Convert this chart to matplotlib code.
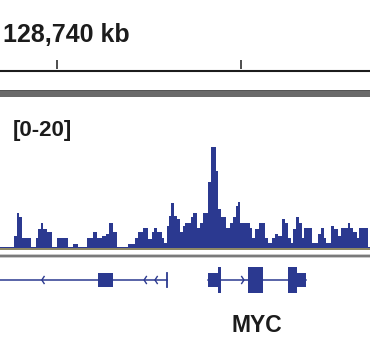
import matplotlib.pyplot as plt
import numpy as np

# view window (kb) and ruler ticks
view_kb = [128736.92, 128757.00]
tick_kb = [128740, 128750]
ruler_label = "128,740 kb"
range_label = "[0-20]"
ymax = 20

# coverage as bedgraph-like steps: start of each step (kb) and its value
starts_kb = [
    128736.92, 128737.70, 128737.83, 128737.96, 128738.10, 128738.61, 128738.86, 128739.00,
    128739.13, 128739.24, 128739.46, 128739.73, 128740.03, 128740.63, 128740.87, 128741.17,
    128741.63, 128741.99, 128742.17, 128742.44, 128742.68, 128742.82, 128743.04, 128743.26,
    128743.85, 128744.25, 128744.40, 128744.52, 128744.70, 128744.97, 128745.16, 128745.30,
    128745.43, 128745.70, 128745.84, 128745.97, 128746.11, 128746.20, 128746.37, 128746.51,
    128746.69, 128746.84,
    128746.96, 128747.29, 128747.38, 128747.60, 128747.78, 128747.96, 128748.23, 128748.37,
    128748.63, 128748.77, 128748.90, 128749.17, 128749.40, 128749.58, 128749.71, 128749.82,
    128749.95, 128750.49, 128750.58, 128750.76, 128750.98, 128751.30, 128751.48, 128751.70,
    128751.85, 128752.02, 128752.21, 128752.39, 128752.53, 128752.71, 128752.84, 128752.97,
    128753.15, 128753.29, 128753.42, 128753.84, 128754.20, 128754.36, 128754.49, 128754.60,
    128754.88, 128755.06, 128755.25, 128755.43, 128755.79, 128755.92, 128756.09, 128756.28,
    128756.40, 128756.88,
]
end_kb = 128757.00
values = [
    0.1, 1.5, 4.6, 4.1, 1.3, 0.1, 1.3, 2.4, 3.3, 2.4, 2.0, 0.1, 1.3, 0.1, 0.5, 0.1,
    1.3, 2.1, 1.3, 1.5, 1.8, 3.3, 2.0, 0.1, 0.5, 1.3, 2.1, 2.0, 2.6, 1.1, 2.1, 2.6,
    2.1, 1.3, 0.65, 2.9, 4.2, 5.85, 4.2, 3.8, 2.0, 2.9,
    3.3, 4.0, 4.6, 2.65, 3.3, 4.6, 8.7, 13.35, 10.1, 5.1, 4.1, 2.65, 3.3, 4.1, 5.55, 6.1,
    3.3, 2.65, 1.3, 2.5, 3.3, 1.3, 0.65, 1.3, 1.85, 1.5, 3.85, 3.3, 1.3, 0.65, 2.4, 4.1,
    3.3, 1.3, 2.65, 0.65, 1.85, 2.65, 1.3, 0.65, 2.9, 2.5, 1.5, 2.65, 3.3, 2.65, 2.0, 1.3,
    2.65, 0.1,
]

# gene models (kb)
left_gene_span = [128736.92, 128745.97]
left_gene_exons = [(128742.26, 128743.04, "utr")]
left_gene_arrows = [128739.19, 128744.74, 128745.33]   # "<" strand marks
myc_span = [128748.23, 128753.53]
myc_exons = [(128748.23, 128748.74, "utr"), (128748.74, 128748.92, "cds"),
             (128750.36, 128751.21, "cds"),
             (128752.53, 128753.02, "cds"), (128753.02, 128753.53, "utr")]
myc_arrows = [128750.16]                                # ">" strand marks
gene_name = "MYC"

navy = "#2b3990"
ink = "#1c1c1c"
W, H = 370, 350
bold = dict(family=["Liberation Sans", "DejaVu Sans"], weight="bold")

fig = plt.figure(figsize=(W / 100, H / 100), dpi=100)

# overlay axes: x in kb, y in pixels from the top
ax = fig.add_axes([0, 0, 1, 1])
ax.set_xlim(view_kb)
ax.set_ylim(H, 0)
ax.axis("off")

# ruler
ax.axhline(71, color=ink, lw=1.5)
for t in tick_kb:
    ax.plot([t, t], [60, 69], color=ink, lw=1.1, solid_capstyle="butt")
fig.text(3 / W, 1 - 42 / H, ruler_label, fontsize=18, color=ink, va="baseline", **bold)

# gray header bar and separators
ax.axhspan(89.5, 97.2, color="#6a6a6a", lw=0)
ax.axhspan(89.5, 91, color="#555555", lw=0)
ax.axhline(248.5, color="#6e6638", lw=1.1)
ax.axhspan(253.5, 258, color="#c9c9c9", lw=0)
ax.axhspan(255, 257, color="#7a7a7a", lw=0)

# coverage track
cov = fig.add_axes([0, (H - 247.5) / H, 1, 150.5 / H])
cov.patch.set_alpha(0)
cov.stairs(values, starts_kb + [end_kb], fill=True, color=navy, lw=0)
cov.set_xlim(view_kb)
cov.set_ylim(0, ymax)
cov.axis("off")
fig.text(13 / W, 1 - 136 / H, range_label, fontsize=16, color=ink, va="baseline", **bold)

# gene track
gy = 280
kb_per_px = (view_kb[1] - view_kb[0]) / W


def draw_gene(span, exons, arrows, direction, end_tick=None):
    ax.plot(span, [gy, gy], color=navy, lw=1.1)
    for s, e, kind in exons:
        h = 13.3 if kind == "cds" else 7
        ax.fill_between([s, e], gy - h, gy + h, color=navy, lw=0)
    for a in arrows:
        dx = 2.3 * kb_per_px * direction
        ax.plot([a - dx, a, a - dx], [gy - 3.5, gy, gy + 3.5], color=navy, lw=1.0)
    if end_tick is not None:
        ax.plot([end_tick, end_tick], [gy - 7.3, gy + 7.3], color=navy, lw=1.3)


draw_gene(left_gene_span, left_gene_exons, left_gene_arrows, -1, end_tick=left_gene_span[1])
draw_gene(myc_span, myc_exons, myc_arrows, 1)
myc_mid = (myc_span[0] + myc_span[1]) / 2
ax.text(myc_mid, 332, gene_name, fontsize=16.5, color=ink, ha="center", va="baseline", **bold)

fig.savefig("out.png", dpi=100)
